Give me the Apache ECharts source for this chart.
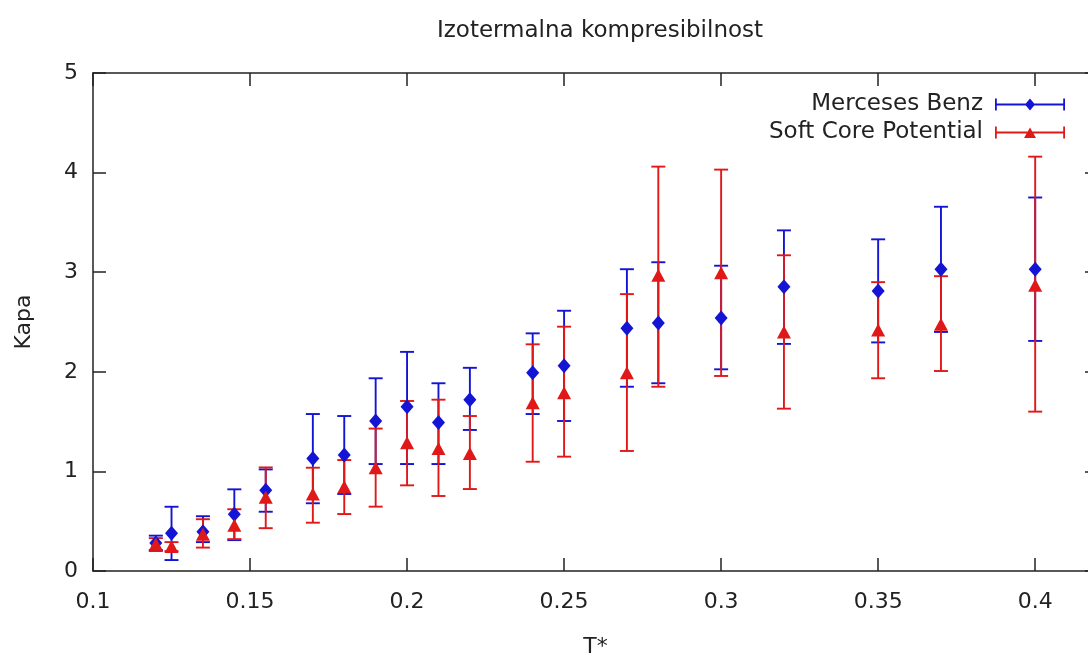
<!DOCTYPE html>
<html>
<head>
<meta charset="utf-8">
<script src="https://cdn.jsdelivr.net/npm/echarts@6/dist/echarts.min.js"></script>
<style>
html,body{margin:0;padding:0;background:#fff;overflow:hidden;width:1088px;height:657px;}
#chart{width:1100px;height:657px;}
</style>
</head>
<body>
<div id="chart"></div>
<script>
// ---- data ----
var tValues = [0.12, 0.125, 0.135, 0.145, 0.155, 0.17, 0.18, 0.19, 0.2, 0.21, 0.22, 0.24, 0.25, 0.27, 0.28, 0.3, 0.32, 0.35, 0.37, 0.4];

var mbValue = [0.28, 0.38, 0.395, 0.57, 0.81, 1.13, 1.165, 1.506, 1.65, 1.49, 1.72, 1.99, 2.06, 2.437, 2.49, 2.54, 2.855, 2.81, 3.03, 3.03];
var mbLow   = [0.21, 0.11, 0.29, 0.31, 0.595, 0.68, 0.773, 1.074, 1.074, 1.074, 1.416, 1.576, 1.506, 1.85, 1.885, 2.025, 2.28, 2.295, 2.4, 2.31];
var mbHigh  = [0.355, 0.645, 0.55, 0.82, 1.02, 1.576, 1.556, 1.935, 2.2, 1.885, 2.04, 2.386, 2.613, 3.03, 3.1, 3.065, 3.42, 3.33, 3.657, 3.75];

var scValue = [0.27, 0.245, 0.37, 0.46, 0.74, 0.773, 0.846, 1.037, 1.288, 1.23, 1.18, 1.69, 1.79, 1.99, 2.97, 2.995, 2.4, 2.42, 2.477, 2.87];
var scLow   = [0.2, 0.2, 0.235, 0.32, 0.43, 0.485, 0.572, 0.646, 0.86, 0.753, 0.823, 1.097, 1.148, 1.205, 1.85, 1.958, 1.63, 1.935, 2.008, 1.6];
var scHigh  = [0.33, 0.29, 0.52, 0.62, 1.04, 1.037, 1.114, 1.43, 1.707, 1.72, 1.556, 2.276, 2.453, 2.78, 4.06, 4.03, 3.17, 2.9, 2.96, 4.16];

var seriesNames = ['Merceses Benz', 'Soft Core Potential'];
var xTickStep = 0.05;
var yTickStep = 1;

// ---- build ----
var BLUE = '#1414d4';
var RED = '#e01818';
var FONT = 'DejaVu Sans';
var TXT = '#222';

function points(vals) { return tValues.map(function (t, i) { return [t, vals[i]]; }); }
function bars(lo, hi) { return tValues.map(function (t, i) { return [t, lo[i], hi[i]]; }); }

function errRender(color) {
  return function (params, api) {
    var x = api.value(0);
    var pLo = api.coord([x, api.value(1)]);
    var pHi = api.coord([x, api.value(2)]);
    var hw = 7;
    var st = { stroke: color, lineWidth: 1.9 };
    return {
      type: 'group',
      children: [
        { type: 'line', shape: { x1: pLo[0], y1: pLo[1], x2: pHi[0], y2: pHi[1] }, style: st },
        { type: 'line', shape: { x1: pLo[0] - hw, y1: pLo[1], x2: pLo[0] + hw, y2: pLo[1] }, style: st },
        { type: 'line', shape: { x1: pHi[0] - hw, y1: pHi[1], x2: pHi[0] + hw, y2: pHi[1] }, style: st }
      ]
    };
  };
}

var iconBlue = 'path://M0,6.1h70v1.8h-70z M0,1h1.8v12h-1.8z M68.2,1h1.8v12h-1.8z M35,1l5,6l-5,6l-5,-6z';
var iconRed = 'path://M0,6.1h70v1.8h-70z M0,1h1.8v12h-1.8z M68.2,1h1.8v12h-1.8z M35,2l6,10.5h-12z';

function fmtX(v) { return String(+(+v).toFixed(2)); }

var axisLineStyle = { color: '#222', width: 1.5 };

var option = {
  animation: false,
  backgroundColor: '#fff',
  textStyle: { fontFamily: FONT },
  title: {
    text: 'Izotermalna kompresibilnost',
    left: 595, top: 15, textAlign: 'center',
    textStyle: { fontFamily: FONT, fontSize: 23, fontWeight: 'normal', color: TXT }
  },
  legend: {
    orient: 'vertical',
    right: 30, top: 88,
    align: 'right',
    itemWidth: 70, itemHeight: 14,
    itemGap: 5,
    data: [
      { name: seriesNames[0], icon: iconBlue },
      { name: seriesNames[1], icon: iconRed }
    ],
    textStyle: { fontFamily: FONT, fontSize: 23, color: TXT, lineHeight: 23, padding: [0, 7, 0, 0] },
    selectedMode: false
  },
  grid: { left: 93, top: 73, width: 1005, height: 498, containLabel: false, outerBoundsMode: 'none' },
  xAxis: [
    {
      type: 'value', min: 0.1, max: 0.42, interval: xTickStep,
      name: 'T*', nameLocation: 'middle', nameGap: 65,
      nameTextStyle: { fontFamily: FONT, fontSize: 22, color: TXT },
      axisLine: { show: true, onZero: false, lineStyle: axisLineStyle },
      axisTick: { show: true, inside: true, length: 13, lineStyle: axisLineStyle },
      axisLabel: { margin: 20, fontFamily: FONT, fontSize: 22, color: TXT, showMaxLabel: false, formatter: fmtX },
      splitLine: { show: false }
    },
    {
      type: 'value', min: 0.1, max: 0.42, interval: xTickStep, position: 'top',
      axisLine: { show: true, onZero: false, lineStyle: axisLineStyle },
      axisTick: { show: true, inside: true, length: 13, lineStyle: axisLineStyle },
      axisLabel: { show: false },
      splitLine: { show: false }
    }
  ],
  yAxis: [
    {
      type: 'value', min: 0, max: 5, interval: yTickStep,
      name: 'Kapa', nameLocation: 'middle', nameGap: 58, nameRotate: 90,
      nameTextStyle: { fontFamily: FONT, fontSize: 22, color: TXT },
      axisLine: { show: true, onZero: false, lineStyle: axisLineStyle },
      axisTick: { show: true, inside: true, length: 13, lineStyle: axisLineStyle },
      axisLabel: { margin: 15, fontFamily: FONT, fontSize: 22, color: TXT },
      splitLine: { show: false }
    },
    {
      type: 'value', min: 0, max: 5, interval: yTickStep, position: 'right',
      axisLine: { show: true, onZero: false, lineStyle: axisLineStyle },
      axisTick: { show: true, inside: true, length: 13, lineStyle: axisLineStyle },
      axisLabel: { show: false },
      splitLine: { show: false }
    }
  ],
  series: [
    {
      name: seriesNames[0], type: 'custom', xAxisIndex: 0, yAxisIndex: 0,
      renderItem: errRender(BLUE), data: bars(mbLow, mbHigh), z: 2,
      itemStyle: { color: BLUE }, encode: { x: 0, y: [1, 2] }
    },
    {
      name: seriesNames[1], type: 'custom', xAxisIndex: 0, yAxisIndex: 0,
      renderItem: errRender(RED), data: bars(scLow, scHigh), z: 3,
      itemStyle: { color: RED }, encode: { x: 0, y: [1, 2] }
    },
    {
      name: seriesNames[0], type: 'scatter', xAxisIndex: 0, yAxisIndex: 0,
      symbol: 'diamond', symbolSize: [13, 15], data: points(mbValue), z: 4,
      itemStyle: { color: BLUE, opacity: 1 }
    },
    {
      name: seriesNames[1], type: 'scatter', xAxisIndex: 0, yAxisIndex: 0,
      symbol: 'triangle', symbolSize: [14, 13], data: points(scValue), z: 5,
      itemStyle: { color: RED, opacity: 1 }
    }
  ]
};

var chart = echarts.init(document.getElementById('chart'), null, { renderer: 'canvas' });
chart.setOption(option);
</script>
</body>
</html>
